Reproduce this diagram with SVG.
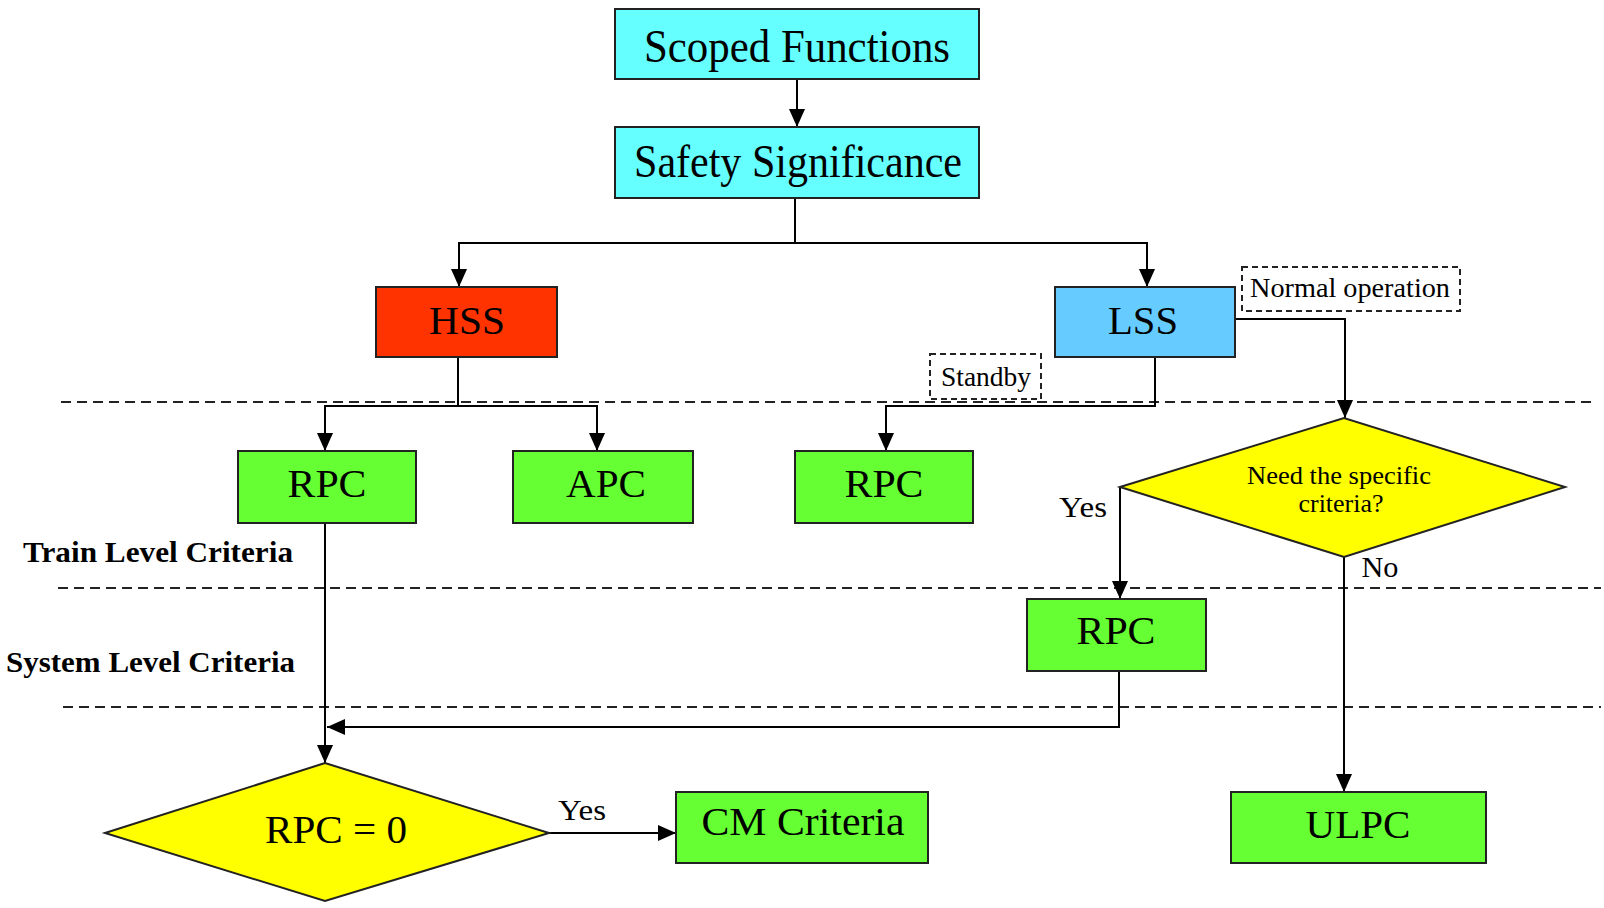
<svg xmlns="http://www.w3.org/2000/svg" width="1604" height="908" viewBox="0 0 1604 908">
<defs>
<marker id="arr" viewBox="0 0 18 16" markerWidth="18" markerHeight="16" refX="18" refY="8" orient="auto" markerUnits="userSpaceOnUse">
<path d="M0,0 L18,8 L0,16 z" fill="#000"/>
</marker>
<style>
.box{stroke:#222;stroke-width:2}
.t{font-family:"Liberation Serif","Times New Roman",serif;fill:#000;text-anchor:middle}
.big{font-size:47px}
.mid{font-size:40px}
.sm{font-size:28px}
.lvl{font-family:"Liberation Serif","Times New Roman",serif;font-weight:bold;font-size:30px;fill:#000}
.cn{fill:none;stroke:#000;stroke-width:2}
.sep{fill:none;stroke:#222;stroke-width:2;stroke-dasharray:10 6}
.lbl{fill:#fff;stroke:#222;stroke-width:2;stroke-dasharray:6 4}
</style>
</defs>
<rect width="1604" height="908" fill="#fff"/>

<g id="separators">
<line class="sep" x1="61" y1="402" x2="1594" y2="402"/>
<line class="sep" x1="58" y1="588" x2="1601" y2="588"/>
<line class="sep" x1="63" y1="707" x2="1601" y2="707"/>
</g>

<g id="level-labels">
<text class="lvl" x="23" y="562" textLength="270" lengthAdjust="spacingAndGlyphs">Train Level Criteria</text>
<text class="lvl" x="6" y="672" textLength="289" lengthAdjust="spacingAndGlyphs">System Level Criteria</text>
</g>

<g id="connectors">
<path class="cn" d="M797 79 V127" marker-end="url(#arr)"/>
<path class="cn" d="M795 198 V243 H459 V287" marker-end="url(#arr)"/>
<path class="cn" d="M795 243 H1147 V287" marker-end="url(#arr)"/>
<path class="cn" d="M458 357 V406 H325 V451" marker-end="url(#arr)"/>
<path class="cn" d="M458 406 H597 V451" marker-end="url(#arr)"/>
<path class="cn" d="M1155 357 V406 H886 V451" marker-end="url(#arr)"/>
<path class="cn" d="M1235 319 H1345 V418" marker-end="url(#arr)"/>
<path class="cn" d="M1120 487 V599" marker-end="url(#arr)"/>
<path class="cn" d="M1344 557 V792" marker-end="url(#arr)"/>
<path class="cn" d="M325 523 V763" marker-end="url(#arr)"/>
<path class="cn" d="M1119 671 V727 H327" marker-end="url(#arr)"/>
<path class="cn" d="M549 833 H676" marker-end="url(#arr)"/>
</g>

<g id="edge-labels">
<g id="lbl-normal">
<rect class="lbl" x="1242" y="267" width="218" height="44"/>
<text class="t sm" x="1350" y="297" textLength="200" lengthAdjust="spacingAndGlyphs">Normal operation</text>
</g>
<g id="lbl-standby">
<rect class="lbl" x="930" y="354" width="111" height="45"/>
<text class="t sm" x="986" y="386" textLength="90" lengthAdjust="spacingAndGlyphs">Standby</text>
</g>
<text class="t" style="font-size:30px" x="1083" y="517" textLength="48" lengthAdjust="spacingAndGlyphs">Yes</text>
<text class="t" style="font-size:30px" x="1380" y="577" textLength="37" lengthAdjust="spacingAndGlyphs">No</text>
<text class="t" style="font-size:30px" x="582" y="820" textLength="48" lengthAdjust="spacingAndGlyphs">Yes</text>
</g>

<g id="scoped">
<rect class="box" x="615" y="9" width="364" height="70" fill="#66FFFF"/>
<text class="t big" x="797" y="62" textLength="306" lengthAdjust="spacingAndGlyphs">Scoped Functions</text>
</g>
<g id="safety">
<rect class="box" x="615" y="127" width="364" height="71" fill="#66FFFF"/>
<text class="t big" x="798" y="177" textLength="328" lengthAdjust="spacingAndGlyphs">Safety Significance</text>
</g>
<g id="hss">
<rect class="box" x="376" y="287" width="181" height="70" fill="#FF3300"/>
<text class="t mid" x="467" y="334" textLength="76" lengthAdjust="spacingAndGlyphs">HSS</text>
</g>
<g id="lss">
<rect class="box" x="1055" y="287" width="180" height="70" fill="#66CCFF"/>
<text class="t mid" x="1143" y="334" textLength="70" lengthAdjust="spacingAndGlyphs">LSS</text>
</g>
<g id="rpc1">
<rect class="box" x="238" y="451" width="178" height="72" fill="#66FF33"/>
<text class="t mid" x="327" y="497" textLength="79" lengthAdjust="spacingAndGlyphs">RPC</text>
</g>
<g id="apc">
<rect class="box" x="513" y="451" width="180" height="72" fill="#66FF33"/>
<text class="t mid" x="606" y="497" textLength="80" lengthAdjust="spacingAndGlyphs">APC</text>
</g>
<g id="rpc3">
<rect class="box" x="795" y="451" width="178" height="72" fill="#66FF33"/>
<text class="t mid" x="884" y="497" textLength="79" lengthAdjust="spacingAndGlyphs">RPC</text>
</g>
<g id="need">
<polygon class="box" points="1120,487 1344,418 1565,487 1344,557" fill="#FFFF00"/>
<text class="t" style="font-size:25px" x="1339" y="484" textLength="184" lengthAdjust="spacingAndGlyphs">Need the specific</text>
<text class="t" style="font-size:25px" x="1341" y="512" textLength="85" lengthAdjust="spacingAndGlyphs">criteria?</text>
</g>
<g id="rpc4">
<rect class="box" x="1027" y="599" width="179" height="72" fill="#66FF33"/>
<text class="t mid" x="1116" y="644" textLength="79" lengthAdjust="spacingAndGlyphs">RPC</text>
</g>
<g id="rpc0">
<polygon class="box" points="105,833 325,763 549,833 325,901" fill="#FFFF00"/>
<text class="t mid" x="336" y="843" textLength="142" lengthAdjust="spacingAndGlyphs">RPC = 0</text>
</g>
<g id="cm">
<rect class="box" x="676" y="792" width="252" height="71" fill="#66FF33"/>
<text class="t mid" x="803" y="835" textLength="203" lengthAdjust="spacingAndGlyphs">CM Criteria</text>
</g>
<g id="ulpc">
<rect class="box" x="1231" y="792" width="255" height="71" fill="#66FF33"/>
<text class="t mid" x="1358" y="838" textLength="105" lengthAdjust="spacingAndGlyphs">ULPC</text>
</g>
</svg>
